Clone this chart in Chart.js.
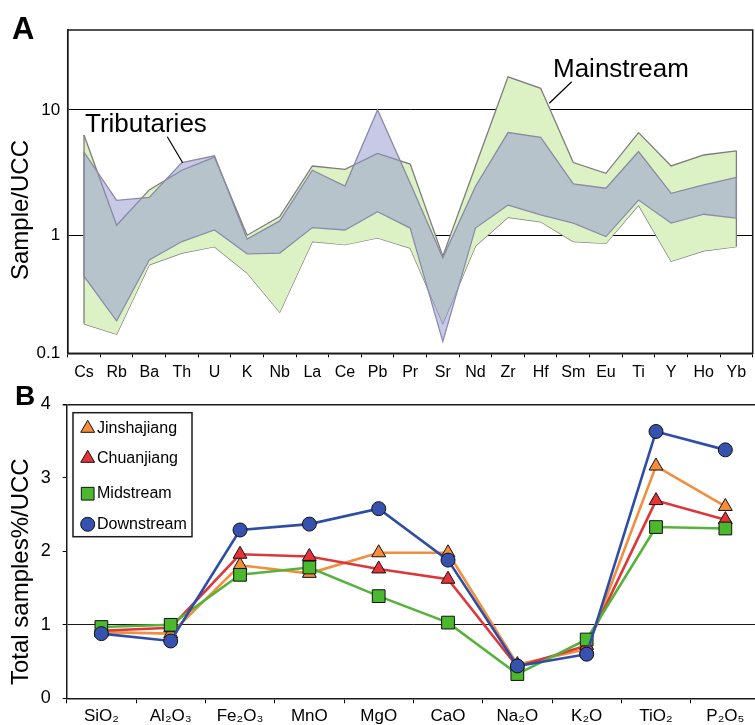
<!DOCTYPE html>
<html>
<head>
<meta charset="utf-8">
<script src="https://cdn.jsdelivr.net/npm/chart.js@4.4.0/dist/chart.umd.min.js"></script>
<style>
  html, body { margin: 0; padding: 0; background: #fff; overflow: hidden; width: 755px; height: 725px; }
  body { position: relative; }
  #chartA { position: absolute; left: 0; top: 0; }
  #chartB { position: absolute; left: 0; top: 375px; }
</style>
</head>
<body>
<canvas id="chartA" width="755" height="385"></canvas>
<canvas id="chartB" width="770" height="350"></canvas>
<script>
// Panel A: trace elements normalised to UCC (log scale)
const elements = ["Cs", "Rb", "Ba", "Th", "U", "K", "Nb", "La", "Ce", "Pb", "Pr",
  "Sr", "Nd", "Zr", "Hf", "Sm", "Eu", "Ti", "Y", "Ho", "Yb"];
const tribUpper = [4.6, 1.9, 2.0, 3.8, 4.3, 0.93, 1.3, 3.3, 2.47, 10.0, 2.6,
  0.66, 2.45, 6.6, 6.05, 2.57, 2.37, 4.65, 2.16, 2.52, 2.9];
const tribLower = [0.47, 0.207, 0.635, 0.89, 1.1, 0.71, 0.72, 1.15, 1.1, 1.54, 1.14,
  0.142, 1.14, 1.74, 1.45, 1.25, 0.975, 1.91, 1.25, 1.47, 1.37];
const mainUpper = [6.3, 1.2, 2.3, 3.3, 4.2, 1.0, 1.41, 3.57, 3.36, 4.5, 3.7,
  0.68, 3.55, 18.4, 14.9, 3.8, 3.12, 6.59, 3.57, 4.37, 4.71];
const mainLower = [0.196, 0.162, 0.58, 0.72, 0.81, 0.5, 0.243, 0.89, 0.84, 0.95, 0.79,
  0.198, 0.82, 1.39, 1.28, 0.89, 0.86, 1.74, 0.62, 0.75, 0.81];
const logTicks = [1, 10];

// Panel B: major oxides, total samples % / UCC
const oxides = ["SiO\u2082", "Al\u2082O\u2083", "Fe\u2082O\u2083", "MnO", "MgO", "CaO",
  "Na\u2082O", "K\u2082O", "TiO\u2082", "P\u2082O\u2085"];
const jinshajiang = [0.90, 0.88, 1.81, 1.70, 1.98, 1.98, 0.46, 0.67, 3.16, 2.61];
const chuanjiang = [0.92, 0.96, 1.96, 1.93, 1.76, 1.62, 0.43, 0.72, 2.69, 2.43];
const midstream = [0.97, 1.00, 1.68, 1.78, 1.39, 1.03, 0.33, 0.80, 2.33, 2.31];
const downstream = [0.88, 0.78, 2.29, 2.37, 2.58, 1.88, 0.44, 0.60, 3.63, 3.38];

const FONT = "'Liberation Sans', Arial, Helvetica, sans-serif";
Chart.defaults.font.family = FONT;
Chart.defaults.color = "#000";

function rotatedTitle(ctx, text, x, y) {
  ctx.save();
  ctx.translate(x, y);
  ctx.rotate(-Math.PI / 2);
  ctx.font = "24px " + FONT;
  ctx.fillStyle = "#000";
  ctx.textAlign = "center";
  ctx.textBaseline = "middle";
  ctx.fillText(text, 0, 0);
  ctx.restore();
}

const mainEdge = "#7c7c7c";
const tribEdge = "#8a8aa2";

const decorA = {
  id: "decorA",
  afterDatasetsDraw(chart) {
    const { ctx, scales: { x, y } } = chart;
    ctx.save();
    // closing edges of the two bands at Cs and Yb
    ctx.lineWidth = 1.3;
    const last = elements.length - 1;
    [[mainUpper, mainLower, mainEdge], [tribUpper, tribLower, tribEdge]].forEach(([up, lo, col]) => {
      ctx.strokeStyle = col;
      [0, last].forEach((i) => {
        const px = x.getPixelForValue(i);
        ctx.beginPath();
        ctx.moveTo(px, y.getPixelForValue(up[i]));
        ctx.lineTo(px, y.getPixelForValue(lo[i]));
        ctx.stroke();
      });
    });
    ctx.restore();
  },
  afterDraw(chart) {
    const { ctx, chartArea: a } = chart;
    ctx.save();
    // box round the plot
    ctx.strokeStyle = "#1a1a1a";
    ctx.lineWidth = 1.5;
    ctx.strokeRect(a.left, a.top, a.right - a.left, a.bottom - a.top);

    ctx.fillStyle = "#000";
    ctx.font = "bold 31px " + FONT;
    ctx.textBaseline = "alphabetic";
    ctx.fillText("A", 12, 38.5);

    ctx.font = "26px " + FONT;
    ctx.fillText("Tributaries", 85, 131.5);
    ctx.fillText("Mainstream", 553, 76.7);

    ctx.strokeStyle = "#000";
    ctx.lineWidth = 1.2;
    ctx.beginPath();
    ctx.moveTo(167.3, 136.7);
    ctx.lineTo(182.7, 162.7);
    ctx.moveTo(571.7, 81.7);
    ctx.lineTo(549.3, 103.3);
    ctx.stroke();
    ctx.restore();

    rotatedTitle(ctx, "Sample/UCC", 21, 210);
  },
};

const bandLine = { pointRadius: 0, tension: 0, borderWidth: 1.3 };

// tributaries come first so their translucent fill is laid over the mainstream band
new Chart(document.getElementById("chartA"), {
  type: "line",
  data: {
    labels: elements,
    datasets: [
      { ...bandLine, label: "Tributaries", data: tribUpper, fill: "+1",
        backgroundColor: "rgba(145,148,208,0.5)", borderColor: tribEdge },
      { ...bandLine, label: "Tributaries low", data: tribLower, fill: false,
        borderColor: tribEdge },
      { ...bandLine, label: "Mainstream", data: mainUpper, fill: "+1",
        backgroundColor: "#ddf2c4", borderColor: mainEdge },
      { ...bandLine, label: "Mainstream low", data: mainLower, fill: false,
        borderColor: mainEdge },
    ],
  },
  options: {
    responsive: false,
    animation: false,
    layout: { padding: { top: 30, right: 2.3, left: 0, bottom: 0 } },
    plugins: {
      legend: { display: false },
      tooltip: { enabled: false },
    },
    scales: {
      x: {
        offset: true,
        grid: { offset: true, drawOnChartArea: false, tickLength: 4, tickColor: "#000" },
        border: { color: "#1a1a1a", width: 1.5 },
        ticks: { font: { size: 16 }, padding: 6, autoSkip: false, maxRotation: 0 },
        afterFit: (s) => { s.height = 31.7; },
      },
      y: {
        type: "logarithmic",
        min: 0.114,
        max: 43.5,
        afterBuildTicks: (s) => {
          s.ticks = [{ value: s.min }].concat(logTicks.map((v) => ({ value: v })));
        },
        ticks: {
          font: { size: 17 },
          padding: 7.5,
          callback: (v) => (v >= 1 ? String(v) : "0.1"),
        },
        grid: {
          drawTicks: false,
          color: (c) => (c.tick && logTicks.includes(c.tick.value) ? "#000" : "rgba(0,0,0,0)"),
          lineWidth: 1,
        },
        border: { color: "#1a1a1a", width: 1.5 },
        afterFit: (s) => { s.width = 67.7; },
      },
    },
  },
  plugins: [decorA],
});

// legend rows for panel B, drawn in the chart canvas
const legendOrder = ["Jinshajiang", "Chuanjiang", "Midstream", "Downstream"];
const legendRows = [53.3, 83.3, 118.7, 149.3];

const decorB = {
  id: "decorB",
  afterDraw(chart) {
    const { ctx } = chart;
    ctx.save();
    ctx.fillStyle = "#000";
    ctx.font = "bold 28px " + FONT;
    ctx.textBaseline = "alphabetic";
    ctx.fillText("B", 15, 30);

    ctx.strokeStyle = "#1a1a1a";
    ctx.lineWidth = 1.5;
    ctx.strokeRect(73, 37.7, 119, 124);

    ctx.font = "16px " + FONT;
    ctx.textBaseline = "middle";
    legendOrder.forEach((name, i) => {
      const ds = chart.data.datasets.find((d) => d.label === name);
      ctx.fillStyle = ds.pointBackgroundColor;
      ctx.strokeStyle = "#111";
      ctx.lineWidth = 1;
      Chart.helpers.drawPoint(ctx, {
        pointStyle: ds.pointStyle, radius: ds.pointRadius, rotation: 0, borderWidth: 1,
      }, 87.7, legendRows[i]);
      ctx.fillStyle = "#000";
      ctx.fillText(name, 97, legendRows[i]);
    });
    ctx.restore();

    rotatedTitle(ctx, "Total samples%/UCC", 21, 196.7);
  },
};

const seriesLine = { borderWidth: 2.6, tension: 0, pointBorderColor: "#111", pointBorderWidth: 1 };

new Chart(document.getElementById("chartB"), {
  type: "line",
  data: {
    labels: oxides,
    datasets: [
      { ...seriesLine, label: "Downstream", data: downstream, borderColor: "#2e4ea6",
        pointBackgroundColor: "#3652ae", pointStyle: "circle", pointRadius: 7 },
      { ...seriesLine, label: "Midstream", data: midstream, borderColor: "#57b23c",
        pointBackgroundColor: "#4cb82e", pointStyle: "rect", pointRadius: 9 },
      { ...seriesLine, label: "Chuanjiang", data: chuanjiang, borderColor: "#dc383b",
        pointBackgroundColor: "#e8323a", pointStyle: "triangle", pointRadius: 8 },
      { ...seriesLine, label: "Jinshajiang", data: jinshajiang, borderColor: "#f28e3e",
        pointBackgroundColor: "#f78d3a", pointStyle: "triangle", pointRadius: 8 },
    ],
  },
  options: {
    responsive: false,
    animation: false,
    layout: { padding: { top: 29.3, right: 6.3, left: 0, bottom: 0 } },
    plugins: { legend: { display: false }, tooltip: { enabled: false } },
    scales: {
      x: {
        offset: true,
        grid: { offset: true, drawOnChartArea: false, tickLength: 5, tickColor: "#000" },
        border: { color: "#1a1a1a", width: 1.5 },
        ticks: { font: { size: 17 }, padding: 3, autoSkip: false, maxRotation: 0 },
        afterFit: (s) => { s.height = 26.7; },
      },
      y: {
        min: 0,
        max: 4,
        ticks: { stepSize: 1, font: { size: 18 }, padding: 12 },
        grid: {
          tickLength: 4,
          tickColor: "#000",
          color: (c) => (c.tick && (c.tick.value === 1 || c.tick.value === 4) ? "#1a1a1a" : "rgba(0,0,0,0)"),
          lineWidth: (c) => (c.tick && c.tick.value === 4 ? 1.5 : 1),
        },
        border: { color: "#1a1a1a", width: 1.5 },
        afterFit: (s) => { s.width = 66.7; },
      },
    },
  },
  plugins: [decorB],
});
</script>
</body>
</html>
